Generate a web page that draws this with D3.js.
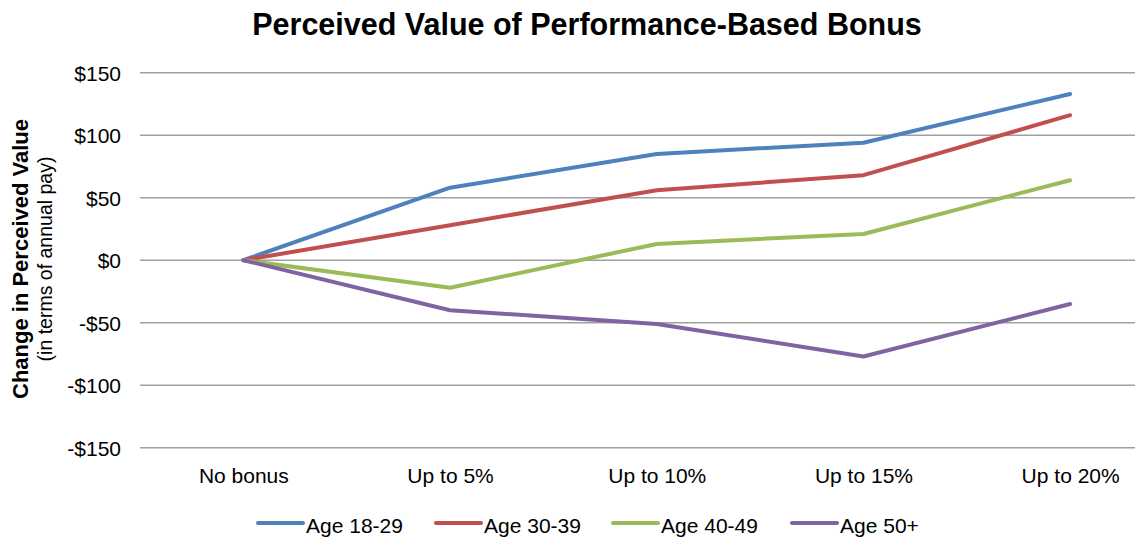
<!DOCTYPE html>
<html>
<head>
<meta charset="utf-8">
<script src="https://cdn.jsdelivr.net/npm/d3@7"></script>
<style>
  body { margin: 0; background: #fff; }
  text { font-family: "Liberation Sans", Arial, sans-serif; }
</style>
</head>
<body>
<script>
var categories = ["No bonus", "Up to 5%", "Up to 10%", "Up to 15%", "Up to 20%"];
var seriesNames = ["Age 18-29", "Age 30-39", "Age 40-49", "Age 50+"];
var age1829 = [0, 58, 85, 94, 133];
var age3039 = [0, 28, 56, 68, 116];
var age4049 = [0, -22, 13, 21, 64];
var age50 = [0, -40, -51, -77, -35];
var yTicks = [-150, -100, -50, 0, 50, 100, 150];
var colors = ["#4F81BD", "#C0504D", "#9BBB59", "#8064A2"];

var series = [age1829, age3039, age4049, age50];

var width = 1135, height = 537;

var svg = d3.select("body").append("svg")
  .attr("width", width)
  .attr("height", height);

var x = d3.scalePoint()
  .domain(categories)
  .range([140, 1173.5])
  .padding(0.5);

var y = d3.scaleLinear()
  .domain([-150, 150])
  .range([447.7, 72.7]);

// title
svg.append("text")
  .attr("x", 587)
  .attr("y", 35)
  .attr("text-anchor", "middle")
  .attr("font-size", 30.5)
  .attr("font-weight", "bold")
  .text("Perceived Value of Performance-Based Bonus");

// gridlines
svg.append("g").selectAll("line")
  .data(yTicks)
  .enter()
  .append("line")
  .attr("x1", 140)
  .attr("x2", 1173.5)
  .attr("y1", function (d) { return y(d); })
  .attr("y2", function (d) { return y(d); })
  .attr("stroke", "#A0A0A0")
  .attr("stroke-width", 1.5);

// y axis labels
var yAxis = d3.axisLeft(y)
  .tickValues(yTicks)
  .tickSize(0)
  .tickPadding(0)
  .tickFormat(function (d) { return d < 0 ? "-$" + Math.abs(d) : "$" + d; });

var yg = svg.append("g")
  .attr("transform", "translate(121,0)")
  .call(yAxis);
yg.select(".domain").remove();
yg.selectAll("text")
  .attr("font-family", "Liberation Sans, Arial, sans-serif")
  .attr("font-size", 21)
  .attr("dy", "0.36em")
  .attr("fill", "#000");

// x axis labels
var xAxis = d3.axisBottom(x).tickSize(0).tickPadding(0);
var xg = svg.append("g")
  .attr("transform", "translate(0,483)")
  .call(xAxis);
xg.select(".domain").remove();
xg.selectAll("text")
  .attr("font-family", "Liberation Sans, Arial, sans-serif")
  .attr("font-size", 21)
  .attr("dy", 0)
  .attr("fill", "#000");

// y axis title
var yt = svg.append("text")
  .attr("transform", "translate(0,259) rotate(-90)")
  .attr("text-anchor", "middle");
yt.append("tspan")
  .attr("x", 0)
  .attr("y", 28)
  .attr("font-size", 22)
  .attr("font-weight", "bold")
  .text("Change in Perceived Value");
yt.append("tspan")
  .attr("x", 0)
  .attr("y", 52)
  .attr("font-size", 19.5)
  .text("(in terms of annual pay)");

// lines
var line = d3.line()
  .x(function (d, i) { return x(categories[i]); })
  .y(function (d) { return y(d); });

svg.append("g").selectAll("path")
  .data(series)
  .enter()
  .append("path")
  .attr("d", line)
  .attr("fill", "none")
  .attr("stroke", function (d, i) { return colors[i]; })
  .attr("stroke-width", 4)
  .attr("stroke-linejoin", "round")
  .attr("stroke-linecap", "round");

// legend
var legendX = [258, 436, 613, 792];
var legend = svg.append("g").selectAll("g")
  .data(seriesNames)
  .enter()
  .append("g")
  .attr("transform", function (d, i) { return "translate(" + legendX[i] + ",523)"; });

legend.append("line")
  .attr("x1", 0)
  .attr("x2", 45)
  .attr("stroke", function (d, i) { return colors[i]; })
  .attr("stroke-width", 4)
  .attr("stroke-linecap", "round");

legend.append("text")
  .attr("x", 48)
  .attr("y", 10)
  .attr("font-size", 21)
  .text(function (d) { return d; });
</script>
</body>
</html>
